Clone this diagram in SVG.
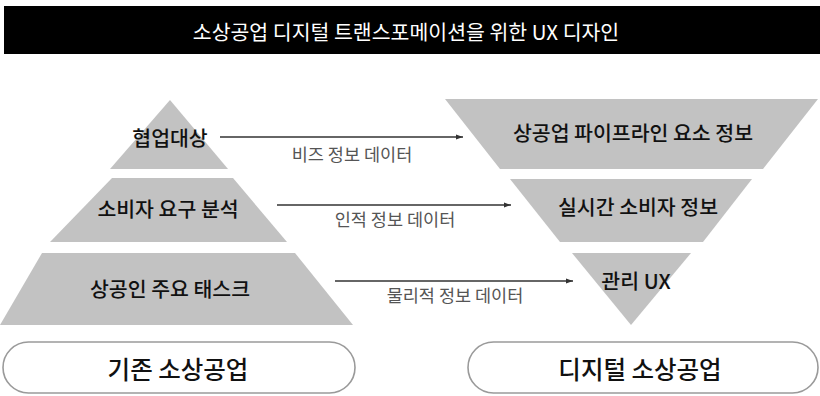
<svg xmlns="http://www.w3.org/2000/svg" width="820" height="396" viewBox="0 0 820 396">
<style>
.shape{fill:#c2c2c2;stroke:none}
.lbl{font-family:"Noto Sans CJK KR","Noto Sans",sans-serif;font-size:20.5px;font-weight:500;fill:#111;text-anchor:middle;dominant-baseline:central}
.edge{stroke:#333;stroke-width:1.4;fill:none;marker-end:url(#ah)}
.elbl{font-family:"Noto Sans CJK KR","Noto Sans",sans-serif;font-size:17.5px;fill:#555;text-anchor:middle;dominant-baseline:central}
.pill{fill:#fff;stroke:#9a9a9a;stroke-width:1.6}
.big{font-family:"Noto Sans CJK KR","Noto Sans",sans-serif;font-size:24.5px;font-weight:500;fill:#111;text-anchor:middle;dominant-baseline:central}
</style>
<defs>
<marker id="ah" viewBox="0 0 10 10" refX="10" refY="5" markerWidth="7" markerHeight="7" markerUnits="userSpaceOnUse" orient="auto">
<path d="M0,1.5 L10,5 L0,8.5 Z" fill="#333"/>
</marker>
</defs>
<rect width="820" height="396" fill="#fff"/>
<g id="title">
<rect x="4" y="6" width="816" height="48" fill="#000"/>
<text x="406" y="31" font-family="'Noto Sans CJK KR','Noto Sans',sans-serif" font-size="20.5" fill="#fff" text-anchor="middle" dominant-baseline="central">소상공업 디지털 트랜스포메이션을 위한 UX 디자인</text>
</g>
<g id="n1">
<polygon class="shape" points="170,100 228,169 110,169"/>
<text class="lbl" x="170" y="137">협업대상</text>
</g>
<g id="n2">
<polygon class="shape" points="112,178 233,178 287,242 50,242"/>
<text class="lbl" x="168" y="208">소비자 요구 분석</text>
</g>
<g id="n3">
<polygon class="shape" points="42,253 295,253 353,325 0,325"/>
<text class="lbl" x="170" y="288">상공인 주요 태스크</text>
</g>
<g id="base-left">
<rect class="pill" x="3" y="342" width="352" height="51" rx="25.5"/>
<text class="big" x="178" y="368">기존 소상공업</text>
</g>
<g id="m1">
<polygon class="shape" points="445,99 818,99 763,169 500,169"/>
<text class="lbl" x="633" y="132">상공업 파이프라인 요소 정보</text>
</g>
<g id="m2">
<polygon class="shape" points="510,179 752,179 703,242 560,242"/>
<text class="lbl" x="638" y="206">실시간 소비자 정보</text>
</g>
<g id="m3">
<polygon class="shape" points="572,253 691,253 631,325"/>
<text class="lbl" x="636" y="280">관리 UX</text>
</g>
<g id="base-right">
<rect class="pill" x="468" y="342" width="350" height="51" rx="25.5"/>
<text class="big" x="640" y="368">디지털 소상공업</text>
</g>
<g id="connectors">
<line class="edge" x1="220" y1="137" x2="463" y2="137"/>
<text class="elbl" x="352" y="153">비즈 정보 데이터</text>
<line class="edge" x1="277" y1="205" x2="511" y2="205"/>
<text class="elbl" x="395" y="218">인적 정보 데이터</text>
<line class="edge" x1="335" y1="281" x2="573" y2="281"/>
<text class="elbl" x="455" y="294">물리적 정보 데이터</text>
</g>
</svg>
